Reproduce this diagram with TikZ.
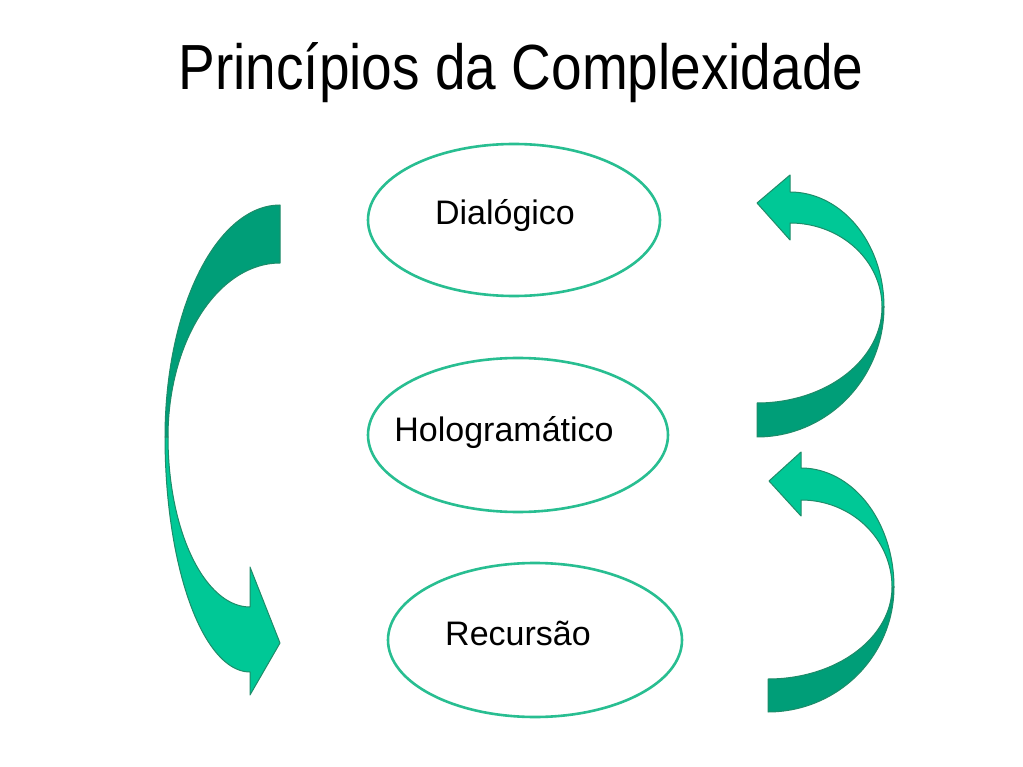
\documentclass[tikz,border=0pt]{standalone}
\usepackage{fontspec}
\setmainfont{Liberation Sans}
\definecolor{arrowlight}{RGB}{0,200,150}
\definecolor{arrowdark}{RGB}{0,158,120}
\definecolor{arrowline}{RGB}{30,140,105}
\definecolor{ellline}{RGB}{40,190,145}
\begin{document}
\begin{tikzpicture}[x=1pt,y=-1pt,
  principle/.style={draw=ellline,line width=2.6pt},
  lbl/.style={font=\fontsize{34}{40}\selectfont,anchor=base,inner sep=0pt},
  lightpart/.style={fill=arrowlight,draw=arrowline,line width=1pt,line join=round},
  darkpart/.style={fill=arrowdark,draw=arrowline,line width=1pt,line join=round}]
\useasboundingbox (0,0) rectangle (1023,767);
\fill[white] (0,0) rectangle (1023,767);

% title
\node[anchor=base,inner sep=0pt,font=\fontsize{55}{60}\selectfont] (title) at (521,90) {\scalebox{1}[1.16]{Princípios da Complexidade}};

% ellipses
\draw[principle] (514,220) ellipse [x radius=146, y radius=76];
\draw[principle] (518,435) ellipse [x radius=150, y radius=77];
\draw[principle] (535,640) ellipse [x radius=147, y radius=77];

\node[lbl] (dia) at (505,225) {Dialógico};
\node[lbl] (holo) at (504,441) {Hologramático};
\node[lbl] (rec) at (518,645) {Recursão};

% left arrow: dark upper part
\path[darkpart] plot[domain=270:180,samples=50] ({280+115*cos(\x)},{437+232*sin(\x)})
  -- plot[domain=180:270,samples=50] ({280+112*cos(\x)},{437+174*sin(\x)}) -- cycle;
% left arrow: light lower part with head
\path[lightpart] plot[domain=180:90,samples=50] ({250+85*cos(\x)},{437+235*sin(\x)})
  -- (250,695) -- (280,643) -- (250,567) -- (250,607)
  -- plot[domain=90:180,samples=50] ({250+82*cos(\x)},{437+170*sin(\x)}) -- cycle;

% upper right arrow: dark lower part
\path[darkpart] plot[domain=0:90,samples=50] ({757+127*cos(\x)},{307+130*sin(\x)})
  -- plot[domain=90:0,samples=50] ({757+125*cos(\x)},{307+96*sin(\x)}) -- cycle;
% upper right arrow: light upper part with head
\path[lightpart] plot[domain=270:360,samples=50] ({790+94*cos(\x)},{307+115*sin(\x)})
  -- plot[domain=360:270,samples=50] ({790+92*cos(\x)},{307+84*sin(\x)})
  -- (790,240) -- (757,203) -- (790,175) -- cycle;

% lower right arrow: dark lower part
\path[darkpart] plot[domain=0:90,samples=50] ({768+126*cos(\x)},{587+125*sin(\x)})
  -- plot[domain=90:0,samples=50] ({768+124*cos(\x)},{587+92*sin(\x)}) -- cycle;
% lower right arrow: light upper part with head
\path[lightpart] plot[domain=270:360,samples=50] ({801+93*cos(\x)},{587+119*sin(\x)})
  -- plot[domain=360:270,samples=50] ({801+91*cos(\x)},{587+87*sin(\x)})
  -- (801,516) -- (769,481) -- (801,452) -- cycle;
\end{tikzpicture}
\end{document}
